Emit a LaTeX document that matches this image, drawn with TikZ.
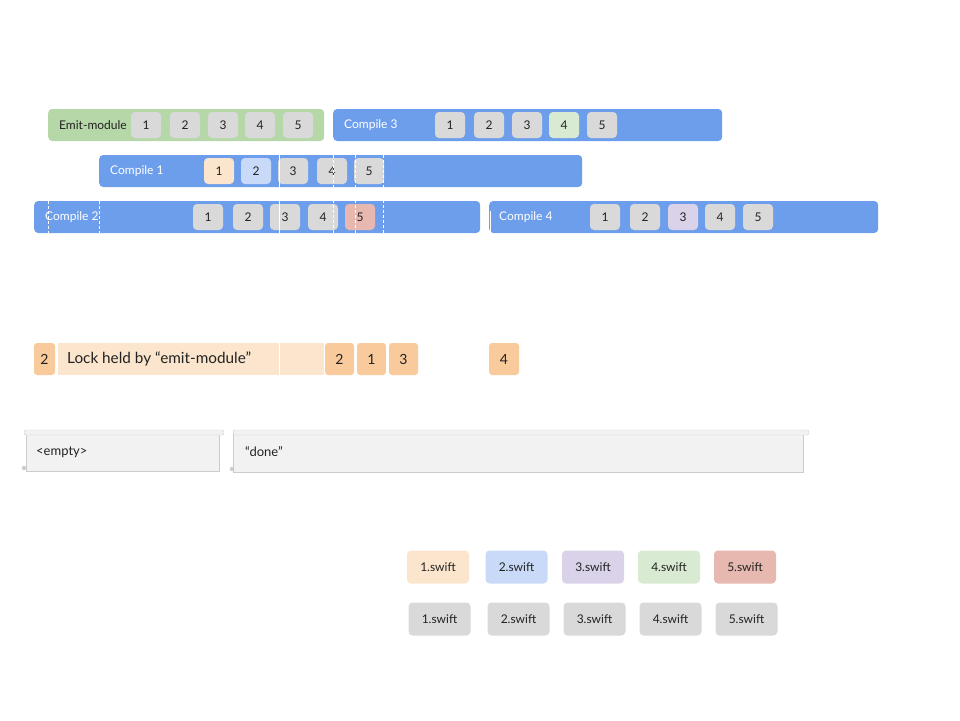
\documentclass[tikz,border=0pt]{standalone}
\usepackage{fontspec}
\setmainfont{Lato}
\definecolor{barBlue}{HTML}{6D9EEB}
\definecolor{barGreen}{HTML}{B6D7A8}
\definecolor{chipGray}{HTML}{D9D9D9}
\definecolor{fileOne}{HTML}{FCE5CD}
\definecolor{fileTwo}{HTML}{C9DAF8}
\definecolor{fileThree}{HTML}{D9D2E9}
\definecolor{fileFour}{HTML}{D9EAD3}
\definecolor{fileFive}{HTML}{E6B8AF}
\definecolor{lockDark}{HTML}{F9CB9C}
\definecolor{scrollFill}{HTML}{F2F2F2}
\definecolor{scrollLine}{HTML}{CCCCCC}
\definecolor{ink}{HTML}{222222}
\begin{document}
\begin{tikzpicture}
        [x=1pt, y=-1pt,
        bar/.style={rectangle, rounded corners=4pt, minimum height=32pt, inner sep=0pt, anchor=west},
        barText/.style={anchor=west, inner sep=0pt, font=\fontsize{12}{14}\selectfont, text=white},
        chip/.style={rectangle, rounded corners=4pt, minimum width=30pt, minimum height=26pt, inner sep=0pt, fill=chipGray, font=\fontsize{12}{14}\selectfont, text=ink},
        lock/.style={rectangle, rounded corners=3pt, minimum height=32pt, inner sep=0pt, fill=lockDark, font=\fontsize{14}{16}\selectfont, text=ink},
        legend/.style={rectangle, rounded corners=4pt, minimum width=62pt, minimum height=33pt, inner sep=0pt, font=\fontsize{12}{14}\selectfont, text=ink},
        scrollText/.style={anchor=west, inner sep=0pt, font=\fontsize{13}{15}\selectfont, text=ink},
        sep/.style={white, line width=0.8pt},
        sepDash/.style={white, line width=0.8pt, dash pattern=on 3pt off 2pt}]
        \useasboundingbox (0,0) rectangle (960,720);

        % bars of the first row
        \node[bar, fill=barGreen, minimum width=276pt] (emit) at (48,125) {};
        \node[barText, text=ink] (emitText) at (59,125) {Emit-module};
        \node[chip] (e1) at (146,125) {1};
        \node[chip] (e2) at (185,125) {2};
        \node[chip] (e3) at (223,125) {3};
        \node[chip] (e4) at (260,125) {4};
        \node[chip] (e5) at (298,125) {5};

        \node[bar, fill=barBlue, minimum width=389pt] (cmp3) at (333,125) {};
        \node[barText] (cmp3Text) at (344,125) {Compile 3};
        \node[chip] (c3a) at (450,125) {1};
        \node[chip] (c3b) at (489,125) {2};
        \node[chip] (c3c) at (527,125) {3};
        \node[chip, fill=fileFour] (c3d) at (564,125) {4};
        \node[chip] (c3e) at (602,125) {5};

        % second row
        \node[bar, fill=barBlue, minimum width=483pt] (cmp1) at (99,171) {};
        \node[barText] (cmp1Text) at (110,171) {Compile 1};
        \node[chip, fill=fileOne] (c1a) at (219,171) {1};
        \node[chip, fill=fileTwo] (c1b) at (256,171) {2};
        \node[chip] (c1c) at (293,171) {3};
        \node[chip] (c1d) at (332,171) {4};
        \node[chip] (c1e) at (369,171) {5};

        % third row
        \node[bar, fill=barBlue, minimum width=446pt] (cmp2) at (34,217) {};
        \node[barText] (cmp2Text) at (45,217) {Compile 2};
        \node[chip] (c2a) at (208,217) {1};
        \node[chip] (c2b) at (248,217) {2};
        \node[chip] (c2c) at (285,217) {3};
        \node[chip] (c2d) at (323,217) {4};
        \node[chip, fill=fileFive] (c2e) at (360,217) {5};

        \node[bar, fill=barBlue, minimum width=389pt] (cmp4) at (489,217) {};
        \node[barText] (cmp4Text) at (499,217) {Compile 4};
        \node[chip] (c4a) at (605,217) {1};
        \node[chip] (c4b) at (645,217) {2};
        \node[chip, fill=fileThree] (c4c) at (683,217) {3};
        \node[chip] (c4d) at (720,217) {4};
        \node[chip] (c4e) at (758,217) {5};

        % time markers
        \coordinate (mA) at (279,155);
        \coordinate (mB) at (279,233);
        \draw[sep] (mA) -- (mB);
        \draw[sepDash] (333,155) -- (333,233);
        \draw[sepDash] (355,155) -- (355,233);
        \draw[sepDash] (383,155) -- (383,233);
        \draw[sepDash] (48,201) -- (48,233);
        \draw[sepDash] (99,201) -- (99,233);
        \draw[sep] (490,211) -- (490,233);

        % lock row
        \node[lock, minimum width=21pt] (k0) at (44.5,359) {2};
        \node[rectangle, fill=fileOne, minimum width=266pt, minimum height=32pt, inner sep=0pt, anchor=west] (held) at (58,359) {};
        \node[anchor=west, inner sep=0pt, font=\fontsize{15.3}{18}\selectfont, text=ink] (heldText) at (67,359) {Lock held by “emit-module”};
        \draw[sep] (279,343) -- (279,375);
        \node[lock, minimum width=29pt] (k1) at (339.5,359) {2};
        \node[lock, minimum width=29pt] (k2) at (371.5,359) {1};
        \node[lock, minimum width=29pt] (k3) at (403.5,359) {3};
        \node[lock, minimum width=30pt] (k4) at (504,359) {4};
        \draw[sepDash] (324.5,343) -- (324.5,375);
        \draw[sepDash] (386.5,343) -- (386.5,375);

        % scrolls
        \filldraw[fill=scrollFill, draw=scrollLine] (26,433) rectangle (219,471);
        \filldraw[fill=scrollFill, draw=scrollLine, rounded corners=2pt] (24,430) rectangle (224,435);
        \filldraw[fill=scrollLine, draw=scrollLine] (24,468) circle (2pt);
        \node[scrollText] (empty) at (36,452) {<empty>};

        \filldraw[fill=scrollFill, draw=scrollLine] (233,433) rectangle (803,472);
        \filldraw[fill=scrollFill, draw=scrollLine, rounded corners=2pt] (233,430) rectangle (809,435);
        \filldraw[fill=scrollLine, draw=scrollLine] (232,469) circle (2pt);
        \node[scrollText] (done) at (245,452) {“done”};

        % legend
        \node[legend, fill=fileOne] (f1) at (438,567) {1.swift};
        \node[legend, fill=fileTwo] (f2) at (516.5,567) {2.swift};
        \node[legend, fill=fileThree] (f3) at (593,567) {3.swift};
        \node[legend, fill=fileFour] (f4) at (669,567) {4.swift};
        \node[legend, fill=fileFive] (f5) at (745,567) {5.swift};
        \node[legend, fill=chipGray] (g1) at (439.5,619) {1.swift};
        \node[legend, fill=chipGray] (g2) at (518.5,619) {2.swift};
        \node[legend, fill=chipGray] (g3) at (594.5,619) {3.swift};
        \node[legend, fill=chipGray] (g4) at (670.5,619) {4.swift};
        \node[legend, fill=chipGray] (g5) at (746.5,619) {5.swift};
    \end{tikzpicture}
\end{document}
